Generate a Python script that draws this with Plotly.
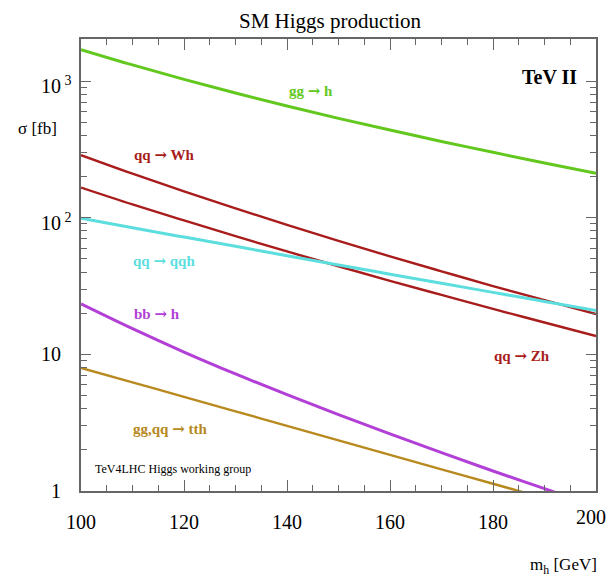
import plotly.graph_objects as go
import numpy as np

# Higgs mass [GeV]
mass = [100, 110, 120, 130, 140, 150, 160, 170, 180, 190, 200]

# cross sections [fb]
gg_h   = [1698, 1312, 1028, 817, 656, 533, 438, 361, 301, 251, 211]
qq_Wh  = [287, 210, 156, 117, 88.5, 67.6, 52.1, 40.5, 31.6, 24.9, 19.7]
qq_Zh  = [166, 125, 95.5, 73.3, 56.6, 44.1, 34.5, 27.2, 21.5, 17.1, 13.6]
qq_qqh = [99.1, 84.5, 72.1, 61.7, 52.7, 45.1, 38.6, 33.1, 28.4, 24.4, 20.9]
bb_h   = [23.4, 15.4, 10.4, 7.19, 5.07, 3.62, 2.62, 1.91, 1.40, 1.04, 0.77]
tth    = [7.96, 6.24, 4.89, 3.83, 3.00, 2.35, 1.84, 1.44, 1.13, 0.885, 0.69]

x_ticks = [100, 120, 140, 160, 180, 200]
y_ticks = [1, 10, 100, 1000]
y_ticktext = ["1", "10", "10<sup> 2</sup>", "10<sup> 3</sup>"]

GREEN, RED, CYAN, MAG, GOLD = "#62c81e", "#a81c1c", "#5cdede", "#b23fd6", "#b8891e"

series = [
    (gg_h,   GREEN, 3.0, "gg → h"),
    (qq_Wh,  RED,   2.4, "qq → Wh"),
    (qq_Zh,  RED,   2.4, "qq → Zh"),
    (qq_qqh, CYAN,  3.0, "qq → qqh"),
    (bb_h,   MAG,   3.0, "bb → h"),
    (tth,    GOLD,  2.4, "gg,qq → tth"),
]

fig = go.Figure()
for ys, col, w, name in series:
    fig.add_trace(go.Scatter(x=mass, y=ys, mode="lines", name=name,
                             line=dict(color=col, width=w, shape="spline", smoothing=1.0),
                             showlegend=False, hoverinfo="skip"))

SERIF = "Liberation Serif, Times New Roman, serif"
frame = "#666666"

y_minor = [m * 10 ** d for d in range(0, 4) for m in range(2, 10) if m * 10 ** d < 2030]

# plot area in pixels: left 81, right 596, top 39, bottom 491
L, R, T, B = 81, 596, 39, 491
fig.update_layout(
    width=609, height=581,
    margin=dict(l=L, r=609 - R, t=T, b=581 - B),
    paper_bgcolor="white", plot_bgcolor="white",
    font=dict(family=SERIF, color="black"),
    xaxis=dict(range=[100, 200], tickvals=x_ticks[:-1],
               ticks="inside", ticklen=11,
               tickwidth=1.3, tickcolor=frame, showline=True, linecolor=frame,
               linewidth=1.6, mirror="ticks", showgrid=False, zeroline=False,
               tickfont=dict(family=SERIF, size=20), ticklabelstandoff=12,
               minor=dict(dtick=5, tick0=100, ticks="inside", ticklen=6,
                          tickwidth=1.1, tickcolor=frame, showgrid=False)),
    yaxis=dict(type="log", range=[0, np.log10(2030)], tickvals=y_ticks,
               showticklabels=False, ticks="inside", ticklen=10, tickwidth=1.3,
               tickcolor=frame, showline=True, linecolor=frame, linewidth=1.6,
               mirror="ticks", showgrid=False, zeroline=False,
               minor=dict(tickmode="array", tickvals=y_minor, ticks="inside",
                          ticklen=6, tickwidth=1.1, tickcolor=frame, showgrid=False)),
)

# last x tick label (drawn separately so it is not dropped at the figure edge)
fig.add_annotation(text=str(x_ticks[-1]), x=1, xshift=12, y=0, xref="paper", yref="paper",
                   yshift=-26, xanchor="right", yanchor="middle", showarrow=False,
                   font=dict(family=SERIF, size=20, color="black"))

# y tick labels: base "10" right-aligned near x=63 px, exponent sticking out
for v, t in zip(y_ticks, y_ticktext):
    has_sup = "<sup>" in t
    right_px = 74 if has_sup else 63
    fig.add_annotation(text=t, x=(right_px - L) / (R - L), y=np.log10(v),
                       xref="paper", yref="y", xanchor="right", yanchor="middle",
                       yshift=-4 if has_sup else 0, showarrow=False,
                       font=dict(family=SERIF, size=20, color="black"))

ARROW = "<span style=\"font-family:'DejaVu Serif'\">→</span>"
ann = [
    ("SM Higgs production", 330, 21, 21, "black", False),
    ("σ [fb]", 37, 128, 17, "black", False),
    ("m<sub>h</sub> [GeV]", 563, 566, 17, "black", False),
    ("TeV II", 549, 77, 20, "black", True),
    (f"gg {ARROW} h", 311, 91, 15, GREEN, True),
    (f"qq {ARROW} Wh", 164, 155, 15, RED, True),
    (f"qq {ARROW} qqh", 164, 261, 15, CYAN, True),
    (f"bb {ARROW} h", 157, 314, 15, MAG, True),
    (f"qq {ARROW} Zh", 522, 356, 15, RED, True),
    (f"gg,qq {ARROW} tth", 170, 429, 15, GOLD, True),
    ("TeV4LHC Higgs working group", 173, 469, 12, "black", False),
]
for text, px, py, size, col, bold in ann:
    fig.add_annotation(
        text=f"<b>{text}</b>" if bold else text,
        x=(px - L) / (R - L), y=(B - py) / (B - T), xref="paper", yref="paper",
        xanchor="center", yanchor="middle", showarrow=False,
        font=dict(family=SERIF, size=size, color=col),
    )

fig.write_html("out.html")
